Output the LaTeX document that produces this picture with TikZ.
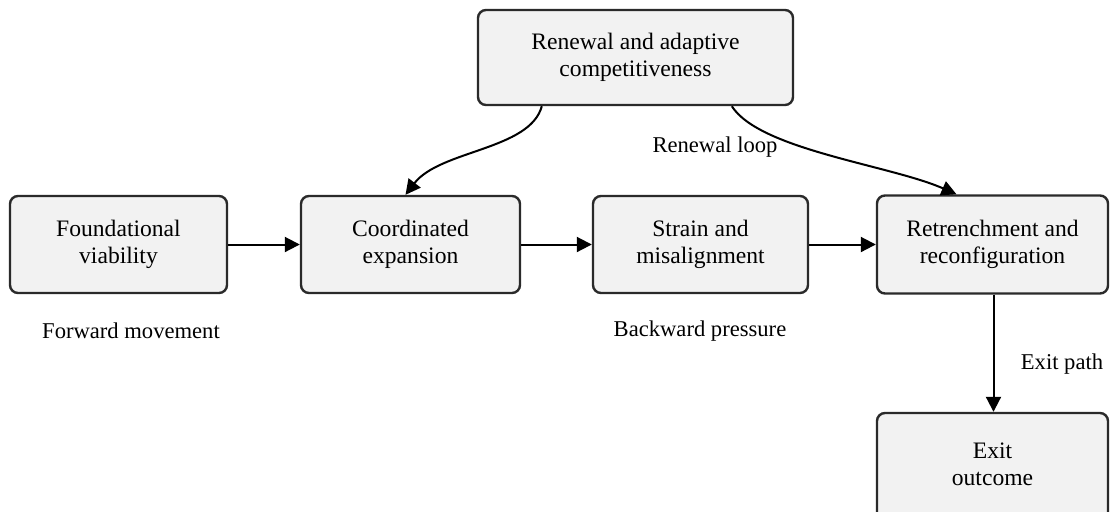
\documentclass[tikz,border=0pt]{standalone}
\usepackage{fontspec}
\setmainfont{Liberation Serif}
\usetikzlibrary{calc,arrows.meta}
\definecolor{boxfill}{HTML}{F2F2F2}
\definecolor{boxline}{HTML}{2A2A2A}
\begin{document}
\begin{tikzpicture}[x=0.5pt,y=-0.5pt,
  stagebox/.style={draw=boxline,fill=boxfill,line width=1.2pt,rounded corners=4pt,
    minimum width=#1,minimum height=48.5pt,align=center,inner sep=0pt,
    font=\fontsize{11.8}{13.5}\selectfont},
  stagebox/.default=108.5pt,
  lbl/.style={font=\fontsize{11.3}{13}\selectfont,inner sep=0pt},
  flow/.style={draw=black,line width=1pt,-{Triangle[length=7.5pt,width=7.5pt]}}]
\useasboundingbox (0,0) rectangle (1110,511);
\clip (0,0) rectangle (1110,511);
\fill[white] (0,0) rectangle (1110,511);
\node[stagebox=157.5pt,minimum height=47.5pt] (top) at (635.5,57.5) {Renewal and adaptive\\competitiveness};
\node[stagebox=108.5pt] (found) at (118.5,244.5) {Foundational\\viability};
\node[stagebox=109.5pt] (coord) at (410.5,244.5) {Coordinated\\expansion};
\node[stagebox=107.5pt] (strain) at (700.5,244.5) {Strain and\\misalignment};
\node[stagebox=115.5pt,minimum height=49pt] (retr) at (992.5,244.5) {Retrenchment and\\reconfiguration};
\node[stagebox=115.5pt,minimum height=60pt] (exit) at (992.5,473)
  {\raisebox{0pt}[\height][\dimexpr\depth+6pt\relax]{\begin{tabular}{@{}c@{}}Exit\\outcome\end{tabular}}};
\draw[flow] (found) -- (coord);
\draw[flow] (coord) -- (strain);
\draw[flow] (strain) -- (retr);
\draw[flow] ($(retr.south)+(1,0)$) -- ($(exit.north)+(1,0)$);
\draw[flow] ($(top.south west)+(65,0)$) .. controls (530,150) and (440,150) .. ($(coord.north)+(-5,0)$);
\draw[flow] ($(top.south west)+(255,0)$) .. controls (760,150) and (890,165) .. ($(retr.north)+(-36,0)$);
\node[lbl] (loop) at (715,147) {Renewal loop};
\node[lbl] (fwd) at (131,331) {Forward movement};
\node[lbl] (bwd) at (700,331) {Backward pressure};
\node[lbl] (exitp) at (1062,364) {Exit path};
\end{tikzpicture}
\end{document}
